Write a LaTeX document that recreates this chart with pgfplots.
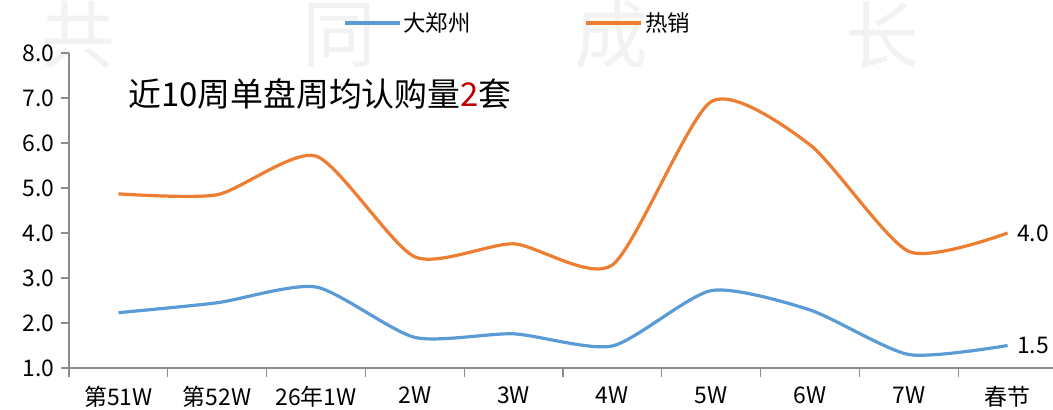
\documentclass[border=0pt]{standalone}
\usepackage{pgfplots}
\pgfplotsset{compat=1.18}
\usepackage{fontspec}
\setmainfont{Noto Sans CJK SC}
\definecolor{zzblue}{HTML}{5B9BD5}
\definecolor{rxorange}{HTML}{ED7D31}
\definecolor{axgray}{HTML}{8C8C8C}
\definecolor{wmgray}{HTML}{F2F2F2}
\definecolor{hlred}{HTML}{C00000}
\begin{document}
\begin{tikzpicture}[x=1bp,y=1bp]
\useasboundingbox (0,0) rectangle (1053,409);
% watermark
\foreach \xx/\ch in {78/共, 339/同, 611/成, 882/长}{
  \node[text=wmgray, font=\fontsize{74}{74}\selectfont, inner sep=0pt] at (\xx,374) {\ch};
}
\begin{axis}[
  at={(69bp,41bp)}, anchor=south west,
  scale only axis, width=988bp, height=315bp,
  xmin=-0.5, xmax=9.5, ymin=1, ymax=8,
  axis lines=left, axis line style={-, axgray, line width=1.5bp},
  clip=false,
  xtick={0,...,9},
  xticklabels={第51W,第52W,26年1W,2W,3W,4W,5W,6W,7W,春节},
  minor xtick={-0.5,0.5,...,9.5},
  ytick={1,2,...,8},
  major x tick style={draw=none},
  tick align=outside,
  tick style={axgray, line width=1.2bp},
  major tick length=8bp, minor tick length=9bp,
  /pgf/number format/fixed,
  /pgf/number format/fixed zerofill,
  /pgf/number format/precision=1,
  /pgf/number format/assume math mode=true,
  ticklabel style={font=\fontsize{23}{23}\selectfont, text=black},
  yticklabel style={xshift=-3bp},
  xticklabel style={yshift=-7bp},
  legend columns=2,
  legend style={at={(0.277,1.095)}, anchor=west, draw=none, fill=none,
    font=\fontsize{22.5}{22.5}\selectfont, inner sep=0pt,
    /tikz/every even column/.append style={column sep=112bp}},
  legend image code/.code={\draw[#1, line width=3.5bp] (0,0) -- (55bp,0);},
  legend cell align=left,
]
\addplot[zzblue, line width=3.2bp, smooth, tension=0.4] coordinates {
  (0,2.23) (1,2.45) (2,2.80) (3,1.68) (4,1.76) (5,1.49) (6,2.72) (7,2.29) (8,1.30) (9,1.5)};
\addlegendentry{大郑州}
\addplot[rxorange, line width=3.2bp, smooth, tension=0.4] coordinates {
  (0,4.87) (1,4.85) (2,5.71) (3,3.47) (4,3.76) (5,3.29) (6,6.92) (7,5.96) (8,3.59) (9,4.0)};
\addlegendentry{热销}
\node[anchor=west, font=\fontsize{23}{23}\selectfont, xshift=6bp] at (axis cs:9,4.0) {4.0};
\node[anchor=west, font=\fontsize{23}{23}\selectfont, xshift=6bp] at (axis cs:9,1.5) {1.5};
\end{axis}
\node[anchor=west, font=\fontsize{33}{33}\selectfont, inner sep=0pt] at (128,315) {近10周单盘周均认购量\textcolor{hlred}{2}套};
\end{tikzpicture}
\end{document}
